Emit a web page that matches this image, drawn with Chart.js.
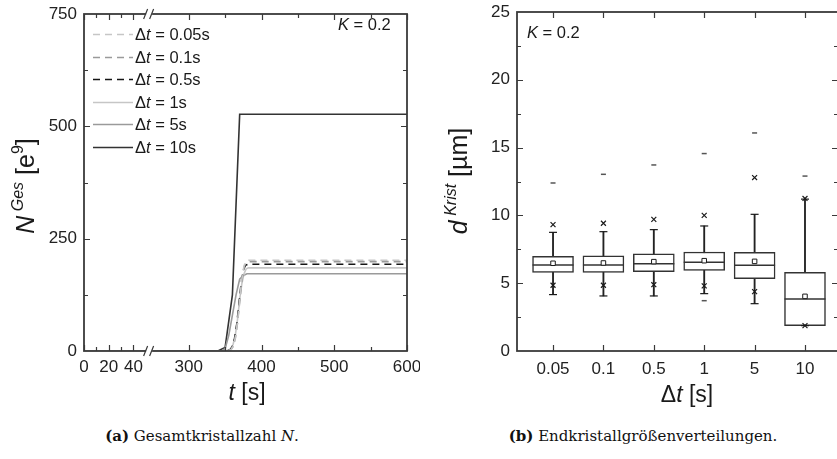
<!DOCTYPE html>
<html>
<head>
<meta charset="utf-8">
<script src="https://cdn.jsdelivr.net/npm/chart.js@4/dist/chart.umd.min.js"></script>
<style>
html, body { margin: 0; padding: 0; background: #fff; }
body { width: 837px; height: 459px; overflow: hidden; position: relative; }
#wrapA { position: absolute; left: 0; top: 0; width: 420px; height: 410px; }
#wrapB { position: absolute; left: 420px; top: 0; width: 425px; height: 410px; }
.cap { position: absolute; top: 427px; width: 400px; text-align: center; font-family: "DejaVu Serif", "Liberation Serif", serif; font-size: 15px; color: #111; white-space: nowrap; }
</style>
</head>
<body>
<div id="wrapA"><canvas id="chartA" width="420" height="410"></canvas></div>
<div id="wrapB"><canvas id="chartB" width="425" height="410"></canvas></div>
<div class="cap" style="left:2px"><b>(a)</b> Gesamtkristallzahl <i>N</i>.</div>
<div class="cap" style="left:443px"><b>(b)</b> Endkristallgrößenverteilungen.</div>
<script>
// ---- data: left chart (total crystal number over time) ----
const legendLabels = ["0.05s", "0.1s", "0.5s", "1s", "5s", "10s"];

const t005 = [0, 353, 358, 361, 364, 367, 370, 373, 376, 379, 382, 600];
const n005 = [0, 0, 3, 11, 30, 65, 113, 160, 190, 200, 202, 202];
const t01  = [0, 353, 358, 361, 364, 367, 370, 373, 376, 379, 382, 600];
const n01  = [0, 0, 3, 10, 28, 62, 110, 157, 187, 197, 199, 199];
const t05  = [0, 352, 357, 360, 363, 366, 369, 372, 375, 378, 381, 600];
const n05  = [0, 0, 3, 10, 28, 60, 105, 150, 180, 191, 193, 193];
const t1   = [0, 350, 355, 358, 361, 364, 367, 370, 373, 376, 379, 382, 600];
const n1   = [0, 0, 2, 6, 15, 35, 70, 115, 150, 172, 183, 185, 185];
const t5   = [0, 340, 345, 350, 355, 360, 365, 370, 375, 380, 600];
const n5   = [0, 0, 0, 5, 35, 80, 125, 160, 168, 172, 172];
const t10  = [0, 340, 350, 360, 370, 600];
const n10  = [0, 0, 8, 125, 527, 527];

const xTickT = [0, 20, 40, 300, 400, 500, 600];
const xTickLabels = ["0", "20", "40", "300", "400", "500", "600"];
const xMinorT = [10, 30, 350, 450, 550];

// ---- data: right chart (final crystal size distributions) ----
const dtLabels = ["0.05", "0.1", "0.5", "1", "5", "10"];
const q1Vals     = [5.80, 5.80, 5.85, 5.95, 5.34, 1.87];
const q3Vals     = [6.98, 7.01, 7.16, 7.30, 7.28, 5.80];
const medianVals = [6.34, 6.34, 6.44, 6.54, 6.32, 3.84];
const meanVals   = [6.47, 6.49, 6.59, 6.66, 6.61, 4.03];
const whiskLo    = [4.16, 4.06, 4.06, 4.23, 3.49, 1.87];
const whiskHi    = [8.75, 8.80, 8.95, 9.22, 10.08, 11.20];
const p1Vals     = [4.85, 4.85, 4.89, 4.80, 4.38, 1.87];
const p99Vals    = [9.32, 9.42, 9.71, 10.00, 12.79, 11.25];
const minVals    = [null, null, null, 3.71, null, null];
const maxVals    = [12.39, 13.03, 13.72, 14.56, 16.08, 12.90];

// broken time axis: 0..50 stretched, 250..600 normal
const SEG1_END = 50, SEG1_SCALE = 1.7, SEG2_SHIFT = 156;
function tx(t) { return t <= SEG1_END ? t * SEG1_SCALE : t - SEG2_SHIFT; }

Chart.defaults.font.family = '"Liberation Sans", Arial, sans-serif';
Chart.defaults.color = "#222";

function drawRich(ctx, parts, cx, cy, rot) {
  ctx.save();
  ctx.translate(cx, cy);
  ctx.rotate(rot || 0);
  ctx.textBaseline = "alphabetic";
  ctx.textAlign = "left";
  let total = 0;
  parts.forEach(p => { ctx.font = p.font; p.w = ctx.measureText(p.text).width; total += p.w; });
  let x = -total / 2;
  parts.forEach(p => {
    ctx.font = p.font;
    ctx.fillStyle = "#1a1a1a";
    ctx.fillText(p.text, x, p.dy || 0);
    x += p.w;
  });
  ctx.restore();
}

function drawLeft(ctx, parts, x, y) {
  ctx.save();
  ctx.textBaseline = "alphabetic";
  ctx.textAlign = "left";
  parts.forEach(p => {
    ctx.font = p.font;
    ctx.fillStyle = "#1a1a1a";
    ctx.fillText(p.text, x, y + (p.dy || 0));
    x += ctx.measureText(p.text).width;
  });
  ctx.restore();
}

const SANS = '"Liberation Sans", Arial, sans-serif';
const f = (size, style) => (style ? style + " " : "") + size + "px " + SANS;

// no automatic padding for overhanging tick labels
const noPadX = s => { s.paddingLeft = 0; s.paddingRight = 0; };
const noPadY = s => { s.paddingTop = 0; s.paddingBottom = 0; };

// frame with inward ticks on all four sides
const framePlugin = {
  id: "frame",
  afterDatasetsDraw(chart, args, opts) {
    const { ctx, chartArea: a, scales: { x, y } } = chart;
    ctx.save();
    ctx.strokeStyle = "#3a3a3a";
    ctx.lineWidth = 1.2;
    ctx.beginPath();
    const xt = (vals, len) => vals.forEach(v => {
      const px = Math.round(x.getPixelForValue(v)) + 0.5;
      ctx.moveTo(px, a.bottom); ctx.lineTo(px, a.bottom - len);
      ctx.moveTo(px, a.top); ctx.lineTo(px, a.top + len);
    });
    const yt = (vals, len) => vals.forEach(v => {
      const py = Math.round(y.getPixelForValue(v)) + 0.5;
      ctx.moveTo(a.left, py); ctx.lineTo(a.left + len, py);
      ctx.moveTo(a.right, py); ctx.lineTo(a.right - len, py);
    });
    xt(opts.xMajor || [], 6); xt(opts.xMinor || [], 4);
    yt(opts.yMajor || [], 6); yt(opts.yMinor || [], 4);
    ctx.stroke();
    ctx.lineWidth = 1.8;
    ctx.strokeRect(a.left, a.top, a.width, a.height);
    if (opts.breakAt != null) {
      const px = x.getPixelForValue(opts.breakAt);
      [a.bottom, a.top].forEach(py => {
        ctx.fillStyle = "#fff";
        ctx.fillRect(px - 3, py - 2, 6, 4);
        ctx.beginPath();
        ctx.lineWidth = 1.2;
        ctx.moveTo(px - 5.5, py + 5); ctx.lineTo(px - 1.5, py - 5);
        ctx.moveTo(px + 0.5, py + 5); ctx.lineTo(px + 4.5, py - 5);
        ctx.stroke();
      });
    }
    ctx.restore();
  }
};

// ---- left chart ----
const seriesA = [
  { t: t005, n: n005, color: "#c6c6c6", dash: [7, 5] },
  { t: t01,  n: n01,  color: "#9a9a9a", dash: [7, 5] },
  { t: t05,  n: n05,  color: "#151515", dash: [7, 5] },
  { t: t1,   n: n1,   color: "#c6c6c6", dash: [] },
  { t: t5,   n: n5,   color: "#9a9a9a", dash: [] },
  { t: t10,  n: n10,  color: "#333333", dash: [] }
];

const textA = {
  id: "textA",
  afterDraw(chart) {
    const ctx = chart.ctx;
    // legend
    const ds = chart.data.datasets;
    ds.forEach((d, i) => {
      const cy = 34.3 + i * 22.5;
      ctx.save();
      ctx.strokeStyle = d.borderColor;
      ctx.lineWidth = d.borderWidth;
      ctx.setLineDash(d.borderDash);
      ctx.beginPath();
      ctx.moveTo(93, Math.round(cy) + 0.5); ctx.lineTo(133, Math.round(cy) + 0.5);
      ctx.stroke();
      ctx.restore();
      drawLeft(ctx, [
        { text: "\u0394", font: f(16.5) },
        { text: "t", font: f(16.5, "italic") },
        { text: " = " + d.label, font: f(16.5) }
      ], 135, cy + 6);
    });
    drawLeft(ctx, [{ text: "K", font: f(16.5, "italic") }, { text: " = 0.2", font: f(16.5) }], 338, 30);
    // axis titles
    drawRich(ctx, [
      { text: "t", font: f(23, "italic") },
      { text: " [s]", font: f(23) }
    ], 247, 400, 0);
    drawRich(ctx, [
      { text: "N", font: f(25, "italic") },
      { text: " Ges", font: f(16, "italic"), dy: -11 },
      { text: " [e", font: f(25) },
      { text: "9", font: f(16), dy: -11 },
      { text: "]", font: f(25) }
    ], 34, 186, -Math.PI / 2);
  }
};

new Chart(document.getElementById("chartA"), {
  type: "line",
  data: {
    datasets: seriesA.map((s, i) => ({
      label: legendLabels[i],
      data: s.t.map((t, k) => ({ x: tx(t), y: s.n[k] })),
      borderColor: s.color,
      borderDash: s.dash,
      borderWidth: 1.6,
      pointRadius: 0,
      tension: 0,
      fill: false
    }))
  },
  options: {
    responsive: false,
    animation: false,
    layout: { autoPadding: false, padding: { top: 14, right: 13, left: 0, bottom: 0 } },
    plugins: {
      legend: { display: false },
      tooltip: { enabled: false },
      frame: {
        xMajor: xTickT.map(tx),
        xMinor: xMinorT.map(tx),
        yMajor: [250, 500],
        yMinor: [125, 375, 625],
        breakAt: (tx(50) + tx(250)) / 2
      }
    },
    scales: {
      x: {
        type: "linear",
        min: tx(0),
        max: tx(600),
        grid: { display: false, drawTicks: false },
        border: { display: false },
        ticks: {
          font: { size: 17 },
          padding: 6,
          autoSkip: false,
          maxRotation: 0,
          callback: (v, i) => xTickLabels[i]
        },
        afterBuildTicks: s => { s.ticks = xTickT.map(t => ({ value: tx(t) })); },
        afterFit: s => { s.height = 59; noPadX(s); }
      },
      y: {
        min: 0,
        max: 750,
        grid: { display: false, drawTicks: false },
        border: { display: false },
        ticks: { stepSize: 250, font: { size: 17 }, padding: 7 },
        afterFit: s => { s.width = 84; noPadY(s); }
      }
    }
  },
  plugins: [framePlugin, textA]
});

// ---- right chart ----
const idx = dtLabels.map((_, i) => i);
const pts = vals => vals.map((v, i) => ({ x: i, y: v }));

const textB = {
  id: "textB",
  afterDraw(chart) {
    const ctx = chart.ctx;
    drawLeft(ctx, [{ text: "K", font: f(16.5, "italic") }, { text: " = 0.2", font: f(16.5) }], 107, 38);
    drawRich(ctx, [
      { text: "\u0394", font: f(23) },
      { text: "t", font: f(23, "italic") },
      { text: " [s]", font: f(23) }
    ], 267, 402, 0);
    drawRich(ctx, [
      { text: "d", font: f(25, "italic") },
      { text: " Krist", font: f(16, "italic"), dy: -11 },
      { text: " [\u00b5m]", font: f(25) }
    ], 47, 181, -Math.PI / 2);
  }
};

const pointSet = (data, style, radius, extra) => Object.assign({
  type: "line",
  data,
  showLine: false,
  pointStyle: style,
  pointRadius: radius,
  pointHoverRadius: radius,
  pointBorderColor: "#1a1a1a",
  pointBackgroundColor: "#fff",
  pointBorderWidth: 1.2,
  order: 1
}, extra || {});

new Chart(document.getElementById("chartB"), {
  type: "bar",
  data: {
    datasets: [
      {
        data: idx.map(i => ({ x: i, y: [whiskLo[i], whiskHi[i]] })),
        barThickness: 1.2,
        backgroundColor: "#222",
        borderWidth: 0,
        grouped: false,
        order: 6
      },
      {
        data: idx.map(i => ({ x: i, y: [q1Vals[i], q3Vals[i]] })),
        barThickness: 41,
        backgroundColor: "#fff",
        borderColor: "#333",
        borderWidth: 1.5,
        borderSkipped: false,
        grouped: false,
        order: 5
      },
      pointSet(pts(medianVals), "line", 20.5, { pointBorderColor: "#333", pointBorderWidth: 1.5, order: 4 }),
      pointSet(pts(whiskLo), "line", 4, { order: 4 }),
      pointSet(pts(whiskHi), "line", 4, { order: 4 }),
      pointSet(pts(meanVals), "rect", 3.2, { pointBorderWidth: 1 }),
      pointSet(pts(p1Vals), "crossRot", 3.5),
      pointSet(pts(p99Vals), "crossRot", 3.5),
      pointSet(pts(minVals), "line", 2.5, { pointBorderColor: "#555", pointBorderWidth: 1.5 }),
      pointSet(pts(maxVals), "line", 2.5, { pointBorderColor: "#555", pointBorderWidth: 1.5 })
    ]
  },
  options: {
    responsive: false,
    animation: false,
    layout: { autoPadding: false, padding: { top: 12, right: 7, left: 0, bottom: 0 } },
    plugins: {
      legend: { display: false },
      tooltip: { enabled: false },
      frame: {
        xMajor: idx,
        yMajor: [5, 10, 15, 20],
        yMinor: [2.5, 7.5, 12.5, 17.5, 22.5]
      }
    },
    scales: {
      x: {
        type: "linear",
        min: -0.715,
        max: 5.655,
        offset: false,
        grid: { display: false, drawTicks: false },
        border: { display: false },
        ticks: {
          font: { size: 17 },
          padding: 8,
          autoSkip: false,
          maxRotation: 0,
          callback: (v, i) => dtLabels[i]
        },
        afterBuildTicks: s => { s.ticks = idx.map(i => ({ value: i })); },
        afterFit: s => { s.height = 59; noPadX(s); }
      },
      y: {
        min: 0,
        max: 25,
        grid: { display: false, drawTicks: false },
        border: { display: false },
        ticks: { stepSize: 5, font: { size: 17 }, padding: 7 },
        afterFit: s => { s.width = 97; noPadY(s); }
      }
    }
  },
  plugins: [framePlugin, textB]
});
</script>
</body>
</html>
